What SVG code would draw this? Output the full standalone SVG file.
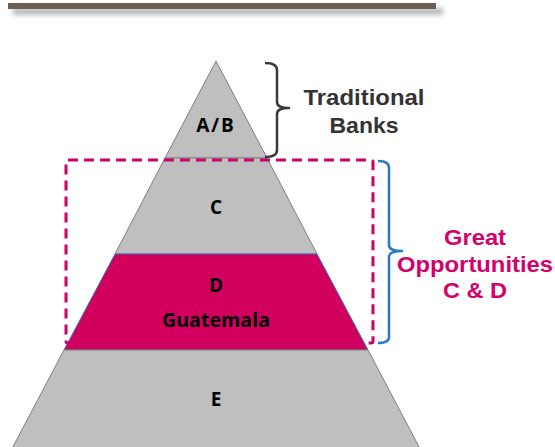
<svg xmlns="http://www.w3.org/2000/svg" width="555" height="447" viewBox="0 0 555 447">
<style>
.lvl{fill:#bfbfbf;stroke:#808080;stroke-width:1}
.hot{fill:#d1005f;stroke:#2e75b6;stroke-width:1}
.lbl{font-family:"Open Sans","Liberation Sans",sans-serif;font-weight:bold;font-size:19px;fill:#000;text-anchor:middle}
.side{font-family:"Liberation Sans",Arial,sans-serif;font-weight:bold;font-size:21.5px;text-anchor:middle}
.brace{fill:none;stroke-width:2.5;stroke-linejoin:round}
</style>
<defs>
<filter id="sh" x="-10%" y="-200%" width="120%" height="500%">
<feGaussianBlur stdDeviation="2.5"/>
</filter>
</defs>
<g id="topbar">
<rect x="13" y="8" width="430" height="7" fill="#9a9a9a" opacity="0.7" filter="url(#sh)"/>
<rect x="8" y="3" width="428" height="6" fill="#6b5e52"/>
</g>
<g id="level-ab">
<polygon class="lvl" points="216,61 267,158 165,158"/>
<text class="lbl" x="216" y="132" letter-spacing="2">A/B</text>
</g>
<g id="level-c">
<polygon class="lvl" points="165,158 267,158 317,254 115,254"/>
<text class="lbl" x="216" y="214">C</text>
</g>
<g id="level-d">
<polygon class="hot" points="115,254 317,254 368,350 64,350"/>
<text class="lbl" x="216" y="292">D</text>
<text class="lbl" x="216" y="327" textLength="108" lengthAdjust="spacingAndGlyphs">Guatemala</text>
</g>
<g id="level-e">
<polygon class="lvl" points="64,350 368,350 426,460 6,460"/>
<text class="lbl" x="216" y="406">E</text>
</g>
<g id="connectors">
<rect x="66" y="160" width="307" height="183" rx="2" fill="none" stroke="#cc0066" stroke-width="3" stroke-dasharray="10,6"/>
<path class="brace" stroke="#3a3a3a" d="M265,63 Q277,63 277,70 V102 Q277,108 289,108 Q277,108 277,114 V150 Q277,157 265,157"/>
<path class="brace" stroke="#2878c8" d="M378,161 Q389,161 389,168 V245 Q389,251 402,251 Q389,251 389,257 V337 Q389,343 378,343"/>
</g>
<g id="label-traditional">
<text class="side" fill="#333333" x="364" y="105" textLength="121" lengthAdjust="spacingAndGlyphs">Traditional</text>
<text class="side" fill="#333333" x="364" y="133" textLength="69" lengthAdjust="spacingAndGlyphs">Banks</text>
</g>
<g id="label-great">
<text class="side" fill="#d4006b" x="475" y="245" textLength="62" lengthAdjust="spacingAndGlyphs">Great</text>
<text class="side" fill="#d4006b" x="475" y="272" textLength="156" lengthAdjust="spacingAndGlyphs">Opportunities</text>
<text class="side" fill="#d4006b" x="475" y="298" textLength="64" lengthAdjust="spacingAndGlyphs">C &amp; D</text>
</g>
</svg>
